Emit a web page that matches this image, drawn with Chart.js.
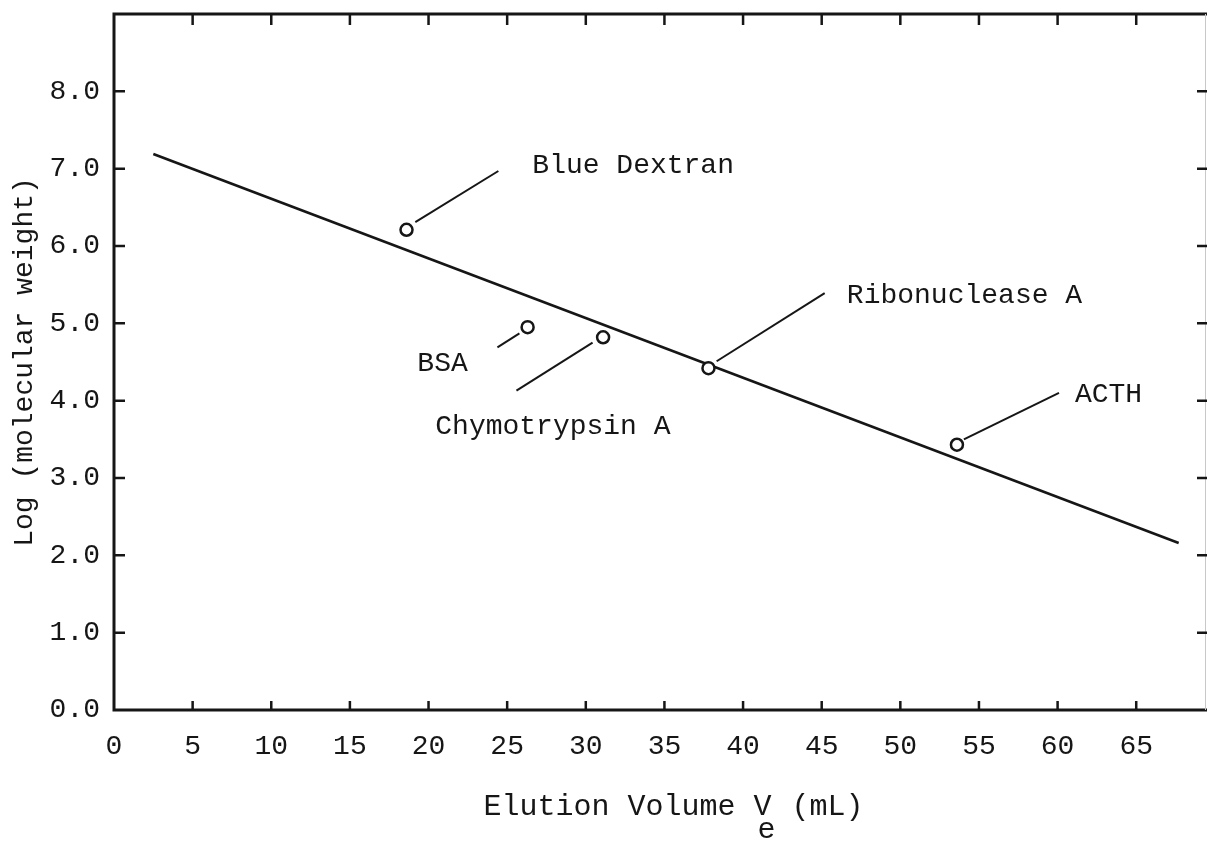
<!DOCTYPE html>
<html>
<head>
<meta charset="utf-8">
<title>Gel filtration calibration</title>
<script src="https://cdn.jsdelivr.net/npm/chart.js@4/dist/chart.umd.min.js"></script>
<style>
  html, body { margin: 0; padding: 0; background: #fff; }
  #wrap { width: 1207px; height: 841px; }
</style>
</head>
<body>
<div id="wrap"><canvas id="chart" width="1207" height="841"></canvas></div>
<script>
// calibration standards
const proteins = ["Blue Dextran", "BSA", "Chymotrypsin A", "Ribonuclease A", "ACTH"];
const elutionVol = [18.6, 26.3, 31.1, 37.8, 53.6];
const logMW = [6.21, 4.95, 4.82, 4.42, 3.43];

// fitted calibration line (end points)
const fitX = [2.5, 67.7];
const fitY = [7.19, 2.16];

// axis ticks
const xTicks = [0, 5, 10, 15, 20, 25, 30, 35, 40, 45, 50, 55, 60, 65];
const yTicks = [0, 1, 2, 3, 4, 5, 6, 7, 8];

// callout leaders + label anchors, in data units
const callouts = [
  { text: "Blue Dextran",   from: [19.16, 6.31], to: [24.44, 6.97], at: [26.6, 7.07] },
  { text: "BSA",            from: [24.38, 4.69], to: [25.78, 4.87], at: [19.29, 4.51] },
  { text: "Chymotrypsin A", from: [25.59, 4.13], to: [30.43, 4.75], at: [20.43, 3.69] },
  { text: "Ribonuclease A", from: [38.32, 4.51], to: [45.19, 5.39], at: [46.6, 5.39] },
  { text: "ACTH",           from: [54.04, 3.50], to: [60.09, 4.10], at: [61.1, 4.10] }
];

const INK = "#161616";
const FONT = "'Liberation Mono', 'Courier New', monospace";

const datasets = [];
// standards first so the circles sit on top of everything
datasets.push({
  type: "scatter",
  label: "standards",
  data: elutionVol.map((v, i) => ({ x: v, y: logMW[i] })),
  pointStyle: "circle",
  pointRadius: 6,
  pointBorderWidth: 2.5,
  pointBorderColor: INK,
  pointBackgroundColor: "#fff"
});
datasets.push({
  type: "line",
  label: "fit",
  data: fitX.map((v, i) => ({ x: v, y: fitY[i] })),
  borderColor: INK,
  borderWidth: 2.6,
  pointRadius: 0,
  fill: false
});
callouts.forEach((c) => {
  datasets.push({
    type: "line",
    label: c.text,
    data: [{ x: c.from[0], y: c.from[1] }, { x: c.to[0], y: c.to[1] }],
    borderColor: INK,
    borderWidth: 2,
    pointRadius: 0,
    fill: false
  });
});

// no extra room for overhanging tick labels
function noOverhang(scale) {
  scale.paddingTop = 0;
  scale.paddingBottom = 0;
  scale.paddingLeft = 0;
  scale.paddingRight = 0;
}

// frame, inward tick marks, callout text and the x title
const decor = {
  id: "decor",
  afterDraw(chart) {
    const ctx = chart.ctx;
    const { left, right, top, bottom } = chart.chartArea;
    const xs = chart.scales.x, ys = chart.scales.y;
    ctx.save();
    ctx.strokeStyle = INK;
    ctx.lineCap = "butt";

    // frame
    ctx.lineWidth = 3;
    ctx.beginPath();
    ctx.moveTo(left, top);
    ctx.lineTo(left, bottom);
    ctx.lineTo(right + 1, bottom);
    ctx.moveTo(left - 1.5, top);
    ctx.lineTo(right + 1, top);
    ctx.stroke();
    ctx.strokeStyle = "#c8c8c8";
    ctx.lineWidth = 1;
    ctx.beginPath();
    ctx.moveTo(right - 1.5, top);
    ctx.lineTo(right - 1.5, bottom);
    ctx.stroke();

    // ticks pointing into the plot
    ctx.strokeStyle = INK;
    ctx.lineWidth = 2.5;
    ctx.beginPath();
    xs.ticks.forEach((t) => {
      if (t.value === 0) return;
      const px = xs.getPixelForValue(t.value);
      ctx.moveTo(px, bottom);
      ctx.lineTo(px, bottom - 9);
      ctx.moveTo(px, top);
      ctx.lineTo(px, top + 11);
    });
    ys.ticks.forEach((t) => {
      if (t.value === 0) return;
      const py = ys.getPixelForValue(t.value);
      ctx.moveTo(left, py);
      ctx.lineTo(left + 11, py);
      ctx.moveTo(right + 1, py);
      ctx.lineTo(right - 10, py);
    });
    ctx.stroke();

    // callout labels
    ctx.fillStyle = INK;
    ctx.font = "28px " + FONT;
    ctx.textAlign = "left";
    ctx.textBaseline = "middle";
    callouts.forEach((c) => {
      ctx.fillText(c.text, xs.getPixelForValue(c.at[0]), ys.getPixelForValue(c.at[1]) + 2);
    });

    // x title with subscript e
    ctx.font = "30px " + FONT;
    ctx.textBaseline = "alphabetic";
    const main = "Elution Volume V";
    const unit = "(mL)";
    const cw = ctx.measureText("M").width;
    const total = (main.length + 1 + unit.length) * cw;
    const x0 = (left + right) / 2 + 12 - total / 2;
    const base = bottom + 105;
    ctx.fillText(main, x0, base);
    ctx.fillText("e", x0 + (main.length - 1) * cw + 4, base + 23);
    ctx.fillText(unit, x0 + (main.length + 1) * cw + 2, base);
    ctx.restore();
  }
};

new Chart(document.getElementById("chart"), {
  type: "scatter",
  data: { datasets: datasets },
  options: {
    responsive: false,
    animation: false,
    layout: { autoPadding: false, padding: { top: 14, right: 0, left: 0, bottom: 0 } },
    plugins: {
      legend: { display: false },
      tooltip: { enabled: false }
    },
    scales: {
      x: {
        type: "linear",
        min: 0,
        max: 69.5,
        grid: { display: false, drawTicks: false },
        border: { display: false },
        ticks: {
          stepSize: 5,
          padding: 20,
          color: INK,
          font: { family: FONT, size: 28 },
          maxRotation: 0,
          callback: (v) => String(v)
        },
        afterBuildTicks: (scale) => {
          scale.ticks = xTicks.map((v) => ({ value: v }));
        },
        afterFit: (scale) => {
          scale.height = 131;
          noOverhang(scale);
        }
      },
      y: {
        type: "linear",
        min: 0,
        max: 9,
        grid: { display: false, drawTicks: false },
        border: { display: false },
        ticks: {
          stepSize: 1,
          padding: 14,
          color: INK,
          font: { family: FONT, size: 28 },
          callback: (v) => Number(v).toFixed(1)
        },
        afterBuildTicks: (scale) => {
          scale.ticks = yTicks.map((v) => ({ value: v }));
        },
        title: {
          display: true,
          text: "Log (molecular weight)",
          color: INK,
          font: { family: FONT, size: 28 },
          padding: { top: 8, bottom: 0 }
        },
        afterFit: (scale) => {
          scale.width = 114;
          noOverhang(scale);
        }
      }
    }
  },
  plugins: [decor]
});
</script>
</body>
</html>
